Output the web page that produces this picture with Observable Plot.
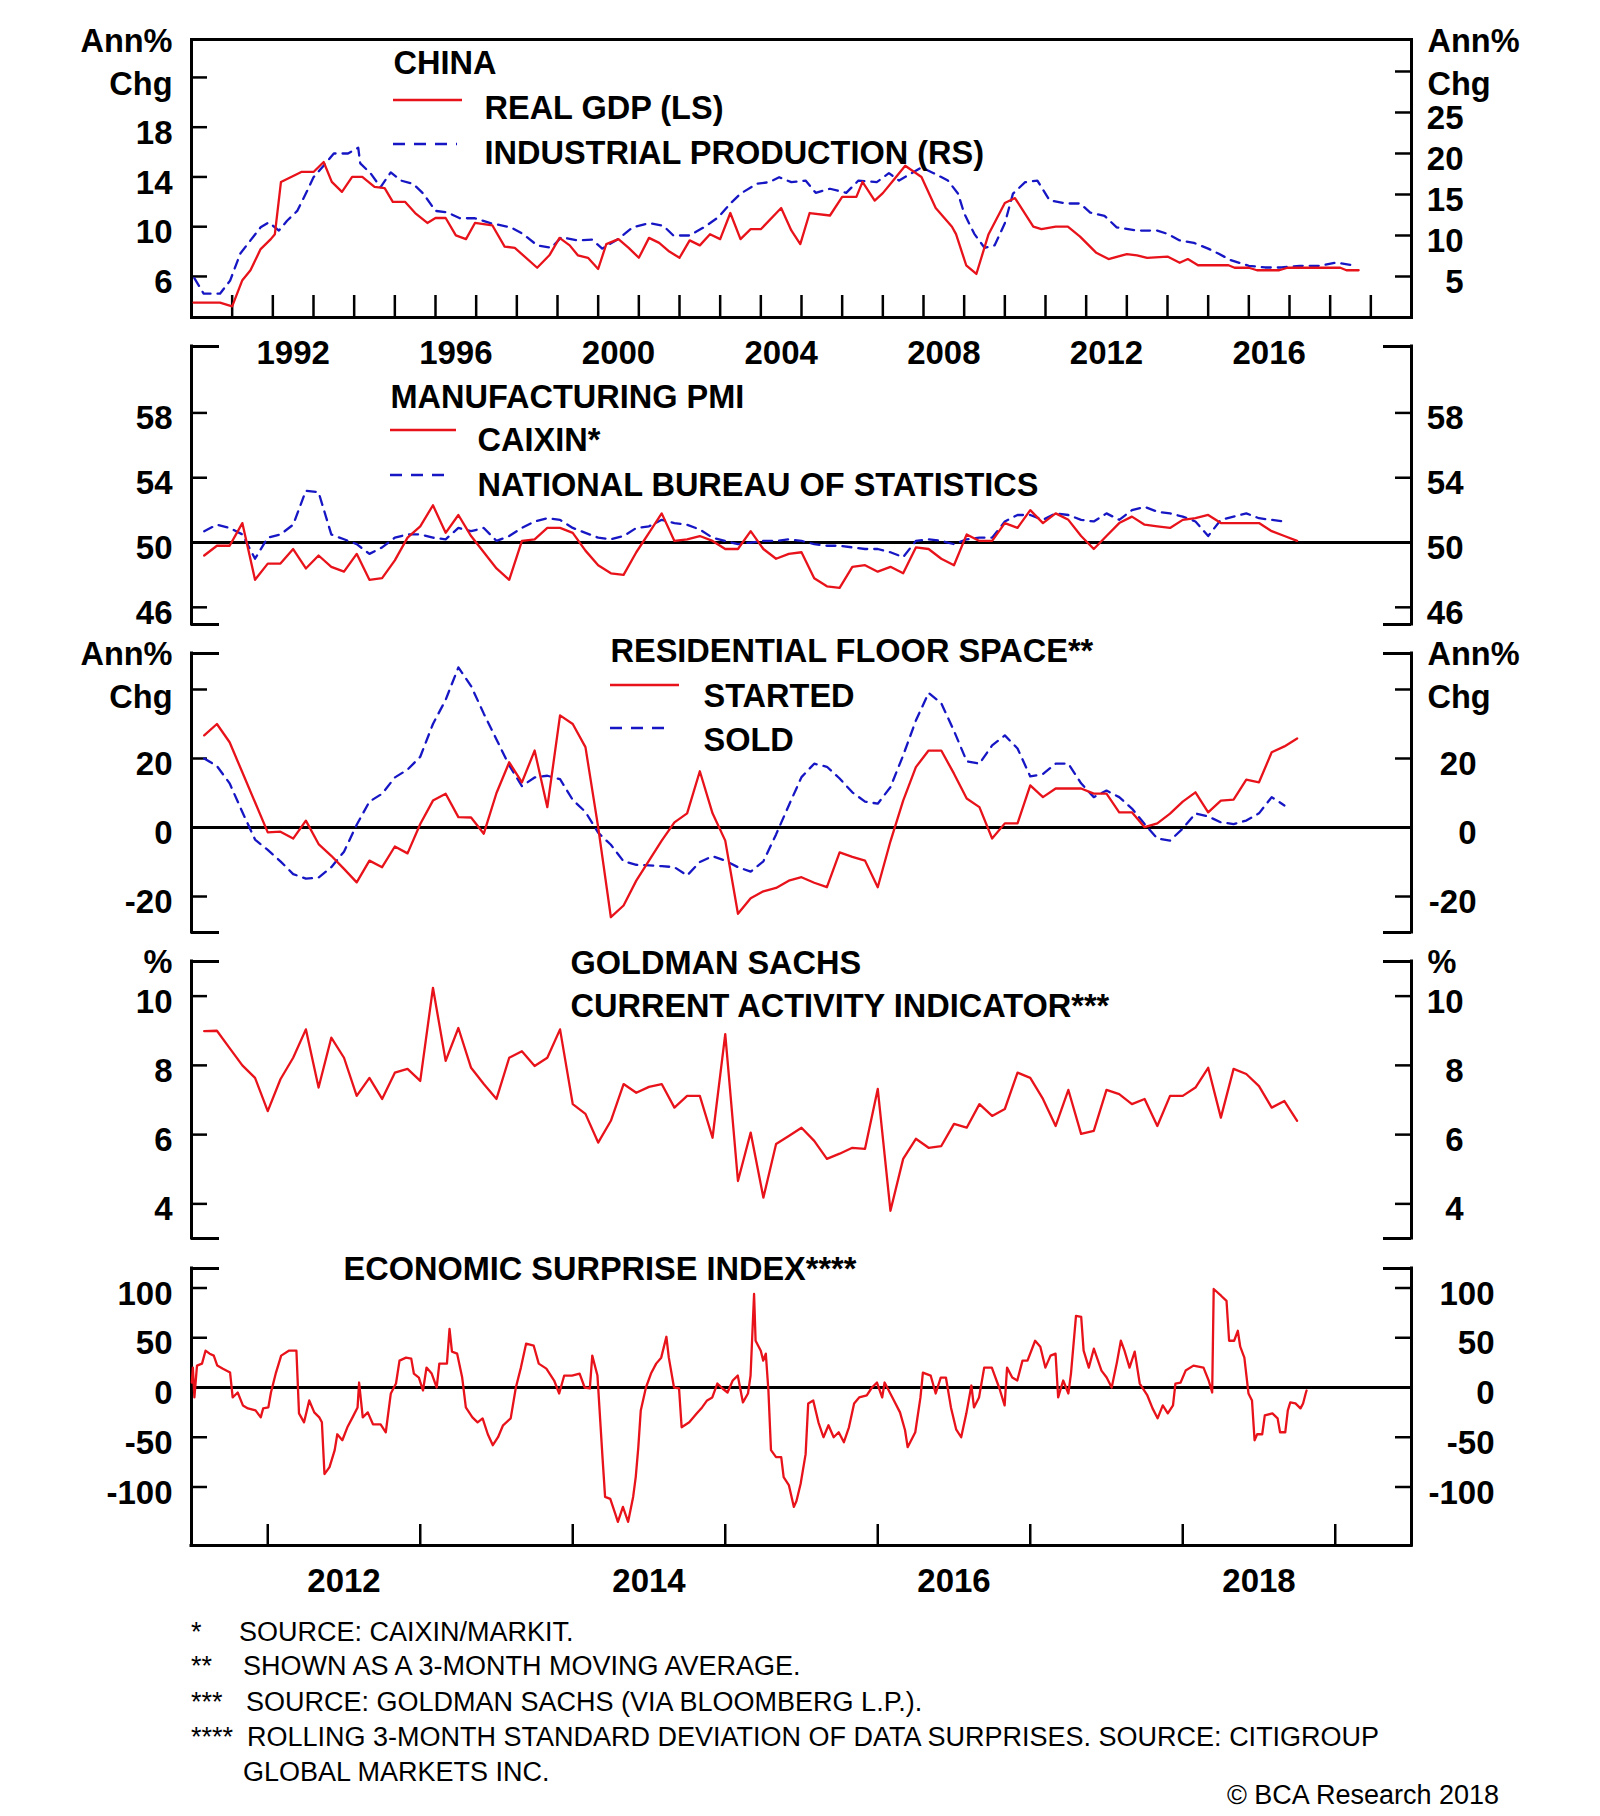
<!DOCTYPE html>
<html>
<head>
<meta charset="utf-8">
<script src="https://cdn.jsdelivr.net/npm/d3@7"></script>
<script src="https://cdn.jsdelivr.net/npm/@observablehq/plot@0.6"></script>
<style>
  html, body { margin: 0; padding: 0; background: #fff; overflow: hidden; }
  #wrap { position: relative; width: 1600px; height: 1816px; background: #fff; color: #000;
          font-family: "Liberation Sans", Arial, Helvetica, sans-serif; }
  .foot { position: absolute; font-size: 27px; line-height: 27px; white-space: pre; color: #000; }
</style>
</head>
<body>
<div id="wrap"></div>
<script>
// ---------------- DATA ----------------
// Panel 1: China real GDP (left scale, ann% chg) and industrial production (right scale)
const gdp = [[1990.05,3.9],[1990.7,3.9],[1991.0,3.6],[1991.25,5.7],[1991.45,6.5],[1991.7,8.2],[1991.95,9.0],[1992.05,9.4],[1992.2,13.6],[1992.45,14.0],[1992.7,14.4],[1993.0,14.4],[1993.25,15.2],[1993.45,13.6],[1993.7,12.8],[1993.95,14.0],[1994.2,14.0],[1994.5,13.2],[1994.75,13.1],[1994.95,12.0],[1995.25,12.0],[1995.5,11.1],[1995.8,10.3],[1996.0,10.7],[1996.25,10.7],[1996.5,9.3],[1996.75,9.0],[1996.97,10.3],[1997.4,10.1],[1997.7,8.4],[1997.95,8.3],[1998.5,6.7],[1998.8,7.7],[1999.05,9.1],[1999.3,8.5],[1999.5,7.7],[1999.75,7.5],[2000.0,6.6],[2000.2,8.6],[2000.5,9.0],[2000.75,8.3],[2001.0,7.5],[2001.25,9.1],[2001.5,8.7],[2001.75,8.0],[2002.0,7.5],[2002.25,8.9],[2002.5,8.5],[2002.75,9.4],[2003.0,9.0],[2003.25,11.1],[2003.5,9.0],[2003.75,9.8],[2004.0,9.8],[2004.5,11.5],[2004.75,9.7],[2004.97,8.6],[2005.2,11.1],[2005.7,10.9],[2006.0,12.4],[2006.35,12.4],[2006.5,13.6],[2006.8,12.1],[2007.0,12.7],[2007.25,13.7],[2007.55,14.9],[2007.95,14.0],[2008.3,11.5],[2008.7,10.0],[2008.8,9.4],[2009.05,6.9],[2009.3,6.2],[2009.6,9.4],[2010.0,11.9],[2010.25,12.3],[2010.7,10.0],[2010.9,9.8],[2011.25,10.0],[2011.55,10.0],[2011.85,9.2],[2012.25,7.9],[2012.55,7.4],[2013.0,7.8],[2013.25,7.7],[2013.5,7.5],[2014.0,7.6],[2014.3,7.1],[2014.5,7.4],[2014.75,6.9],[2015.5,6.9],[2015.65,6.7],[2016.0,6.7],[2016.2,6.5],[2016.75,6.5],[2016.95,6.7],[2018.25,6.7],[2018.4,6.5],[2018.7,6.5]];
const indProd = [[1990.07,4.8],[1990.3,2.9],[1990.7,2.9],[1990.95,4.5],[1991.2,7.8],[1991.45,9.4],[1991.7,11.0],[1991.9,11.6],[1992.15,10.6],[1992.35,11.8],[1992.6,13.0],[1992.85,15.5],[1993.0,17.1],[1993.3,18.8],[1993.5,20.0],[1993.85,20.0],[1994.1,20.7],[1994.15,18.8],[1994.4,17.6],[1994.65,15.9],[1994.9,17.7],[1995.15,16.7],[1995.45,16.3],[1995.7,15.1],[1996.0,13.0],[1996.3,12.8],[1996.6,12.1],[1996.97,12.1],[1997.35,11.5],[1997.85,11.0],[1998.15,10.2],[1998.5,8.8],[1998.85,8.5],[1999.1,9.8],[1999.5,9.4],[1999.85,9.5],[2000.1,8.4],[2000.5,9.6],[2000.85,11.0],[2001.25,11.5],[2001.6,11.2],[2001.85,10.0],[2002.25,10.0],[2002.6,11.0],[2002.95,12.2],[2003.25,13.9],[2003.5,15.1],[2003.9,16.3],[2004.2,16.5],[2004.45,17.1],[2004.75,16.5],[2005.1,16.7],[2005.35,15.2],[2005.7,15.7],[2006.1,15.2],[2006.4,16.7],[2006.85,16.5],[2007.15,17.6],[2007.4,16.7],[2007.95,18.3],[2008.25,17.6],[2008.6,16.7],[2008.85,15.1],[2009.0,12.7],[2009.25,10.2],[2009.5,8.5],[2009.75,8.8],[2010.0,11.5],[2010.2,15.1],[2010.5,16.5],[2010.8,16.7],[2011.1,14.3],[2011.5,13.9],[2011.85,13.9],[2012.1,12.8],[2012.45,12.4],[2012.75,11.0],[2013.25,10.6],[2013.75,10.6],[2014.0,10.2],[2014.3,9.4],[2014.65,9.1],[2015.0,8.4],[2015.25,7.8],[2015.55,7.0],[2016.0,6.3],[2016.4,6.1],[2016.8,6.1],[2017.25,6.3],[2017.75,6.3],[2018.15,6.7],[2018.65,6.3]];
const p1YearLabels = [1992, 1996, 2000, 2004, 2008, 2012, 2016];
const p1LeftTicks = [6, 10, 14, 18, 22];
const p1LeftLabels = [6, 10, 14, 18];
const p1RightTicks = [5, 10, 15, 20, 25, 30];
const p1RightLabels = [5, 10, 15, 20, 25];

// Monthly series (panels 2-4) start at the end of July 2011, one value per month
const monthlyStart = 2011 + 7 / 12;
const caixin = [49.2,49.8,49.8,51.2,47.7,48.7,48.7,49.6,48.4,49.2,48.5,48.2,49.3,47.7,47.8,48.9,50.3,51.0,52.3,50.6,51.7,50.4,49.4,48.4,47.7,50.1,50.2,50.9,50.9,50.6,49.5,48.6,48.1,48.0,49.4,50.6,51.8,50.1,50.2,50.4,50.1,49.6,49.6,50.7,49.6,49.0,49.3,49.4,47.8,47.3,47.2,48.5,48.6,48.2,48.5,48.1,49.7,49.6,49.0,48.6,50.5,50.1,50.1,51.2,50.9,52.0,51.2,51.8,51.4,50.4,49.6,50.4,51.2,51.6,51.1,51.0,50.9,51.4,51.5,51.7,51.2,51.2,51.2,51.2,50.7,50.4,50.1];
const nbs = [50.7,51.1,50.9,50.5,49.0,50.3,50.5,51.1,53.2,53.1,50.5,50.2,49.9,49.3,49.7,50.3,50.5,50.5,50.3,50.2,50.9,50.7,50.9,50.1,50.4,50.9,51.3,51.5,51.4,50.9,50.6,50.3,50.2,50.4,50.9,51.0,51.4,51.2,51.1,50.8,50.3,50.1,49.9,50.0,50.1,50.1,50.2,50.1,49.9,49.8,49.8,49.7,49.6,49.6,49.4,49.1,50.1,50.2,50.1,49.9,50.2,50.3,50.3,51.3,51.7,51.7,51.4,51.8,51.7,51.4,51.3,51.8,51.4,52.0,52.2,51.9,51.8,51.6,51.3,50.4,51.4,51.6,51.8,51.5,51.4,51.3];
const pmiTicks = [46, 50, 54, 58];

const started = [26.7,30.0,24.7,16.0,7.3,-1.4,-1.2,-3.2,2.0,-4.8,-8.2,-12.0,-15.9,-9.6,-11.5,-5.5,-7.5,1.0,7.8,9.8,3.0,2.9,-1.8,10.0,18.9,13.1,22.3,5.9,32.5,30.0,23.3,0.1,-26.0,-22.6,-15.4,-9.6,-3.8,1.5,4.1,16.3,4.1,-3.8,-25.0,-20.5,-18.5,-17.5,-15.4,-14.4,-16.0,-17.3,-7.2,-8.5,-9.6,-17.3,-4.0,7.8,17.5,22.3,22.3,15.6,8.4,5.9,-3.2,1.2,1.2,12.2,8.8,11.3,11.3,11.3,9.8,9.8,4.4,4.4,0.1,1.2,4.0,7.5,10.2,4.4,7.8,8.1,13.9,13.1,21.8,23.5,25.8];
const sold = [20.0,17.8,12.8,4.5,-3.5,-6.5,-9.8,-13.5,-14.8,-14.5,-11.5,-7.0,0.8,7.5,9.8,14.5,16.8,20.5,30.0,37.0,46.4,41.0,33.0,25.5,18.0,12.0,14.5,15.0,14.0,8.0,4.5,-1.5,-5.0,-9.8,-10.8,-11.0,-11.2,-11.5,-13.9,-10.0,-8.3,-9.6,-11.5,-12.8,-9.8,-2.0,6.4,14.6,18.5,17.6,14.2,10.2,7.5,6.9,11.7,20.9,31.0,39.0,36.0,28.0,19.2,18.5,23.8,26.7,22.9,14.8,15.5,18.5,18.5,12.8,8.8,10.7,8.8,5.5,1.0,-3.2,-3.8,-0.3,4.1,3.2,1.5,1.0,2.0,4.1,8.8,6.4];
const floorTicks = [-20, 0, 20, 40];
const floorLabels = [-20, 0, 20];

const cai = [8.99,9.0,8.5,8.0,7.64,6.68,7.6,8.22,9.04,7.36,8.8,8.22,7.12,7.64,7.03,7.79,7.9,7.55,10.24,8.13,9.08,7.93,7.46,7.03,8.22,8.41,7.98,8.22,9.04,6.88,6.6,5.77,6.4,7.46,7.21,7.38,7.46,6.78,7.12,7.12,5.91,8.9,4.66,6.06,4.18,5.73,5.96,6.2,5.82,5.3,5.45,5.62,5.59,7.32,3.8,5.3,5.88,5.62,5.67,6.31,6.2,6.88,6.54,6.74,7.79,7.64,7.03,6.25,7.29,6.02,6.11,7.29,7.17,6.88,7.03,6.25,7.12,7.12,7.36,7.93,6.49,7.9,7.75,7.4,6.78,6.97,6.4];
const caiTicks = [4, 6, 8, 10];

// Panel 5: Citi economic surprise index, China (decimal year, value)
const esi = [[2011.502,5],[2011.509,20],[2011.519,-10],[2011.536,22],[2011.569,24],[2011.592,37],[2011.619,34],[2011.646,32],[2011.669,22],[2011.703,19],[2011.753,15],[2011.770,-10],[2011.803,-5],[2011.837,-18],[2011.870,-21],[2011.920,-23],[2011.954,-30],[2011.970,-21],[2012.004,-20],[2012.021,-5],[2012.054,15],[2012.088,32],[2012.138,37],[2012.188,37],[2012.205,-26],[2012.238,-35],[2012.272,-13],[2012.305,-25],[2012.338,-30],[2012.355,-35],[2012.372,-87],[2012.405,-80],[2012.439,-63],[2012.456,-47],[2012.489,-53],[2012.522,-40],[2012.556,-30],[2012.589,-20],[2012.599,5],[2012.623,-30],[2012.656,-25],[2012.690,-37],[2012.740,-37],[2012.774,-45],[2012.807,-6],[2012.841,4],[2012.864,27],[2012.907,30],[2012.941,29],[2012.958,14],[2012.991,10],[2013.018,-3],[2013.041,20],[2013.075,14],[2013.108,0],[2013.125,24],[2013.175,24],[2013.192,59],[2013.208,36],[2013.242,34],[2013.275,10],[2013.299,-20],[2013.342,-30],[2013.376,-35],[2013.409,-31],[2013.443,-47],[2013.476,-58],[2013.510,-50],[2013.543,-38],[2013.593,-31],[2013.627,0],[2013.660,20],[2013.694,44],[2013.744,42],[2013.777,24],[2013.827,19],[2013.878,7],[2013.911,-6],[2013.944,12],[2013.995,12],[2014.045,14],[2014.078,0],[2014.112,-1],[2014.128,32],[2014.162,12],[2014.195,-70],[2014.212,-110],[2014.246,-112],[2014.279,-127],[2014.296,-135],[2014.329,-120],[2014.363,-135],[2014.396,-110],[2014.413,-90],[2014.430,-60],[2014.446,-23],[2014.480,0],[2014.513,14],[2014.547,24],[2014.580,30],[2014.614,51],[2014.630,30],[2014.664,0],[2014.697,-1],[2014.714,-40],[2014.764,-35],[2014.814,-26],[2014.848,-20],[2014.881,-13],[2014.915,-10],[2014.948,4],[2014.982,-1],[2015.015,-5],[2015.049,7],[2015.082,12],[2015.116,-15],[2015.149,-6],[2015.166,12],[2015.189,94],[2015.199,47],[2015.233,37],[2015.249,27],[2015.266,34],[2015.283,-3],[2015.300,-63],[2015.333,-70],[2015.367,-70],[2015.383,-90],[2015.417,-98],[2015.450,-120],[2015.467,-114],[2015.494,-97],[2015.527,-67],[2015.544,-16],[2015.577,-13],[2015.611,-35],[2015.644,-50],[2015.677,-38],[2015.711,-50],[2015.744,-45],[2015.778,-55],[2015.811,-40],[2015.845,-16],[2015.878,-10],[2015.928,-8],[2015.962,0],[2015.995,5],[2016.029,-10],[2016.045,5],[2016.096,-10],[2016.146,-25],[2016.179,-43],[2016.196,-60],[2016.246,-45],[2016.280,-10],[2016.296,15],[2016.347,12],[2016.380,-6],[2016.413,10],[2016.447,10],[2016.480,-20],[2016.514,-42],[2016.547,-50],[2016.581,-26],[2016.614,2],[2016.631,-20],[2016.664,-10],[2016.698,20],[2016.748,20],[2016.798,-1],[2016.832,-18],[2016.848,20],[2016.882,10],[2016.915,7],[2016.949,27],[2016.982,27],[2017.032,47],[2017.066,41],[2017.099,20],[2017.133,32],[2017.166,34],[2017.183,-10],[2017.216,7],[2017.250,-6],[2017.267,14],[2017.300,72],[2017.334,71],[2017.350,37],[2017.384,20],[2017.417,39],[2017.467,17],[2017.501,10],[2017.534,0],[2017.568,25],[2017.594,47],[2017.618,37],[2017.651,20],[2017.685,36],[2017.718,4],[2017.768,-8],[2017.802,-21],[2017.835,-31],[2017.869,-18],[2017.902,-26],[2017.936,-18],[2017.952,4],[2017.986,5],[2018.019,17],[2018.070,22],[2018.136,20],[2018.170,7],[2018.193,-5],[2018.203,99],[2018.253,92],[2018.287,87],[2018.304,47],[2018.337,47],[2018.361,57],[2018.377,41],[2018.404,30],[2018.431,-6],[2018.454,-13],[2018.471,-53],[2018.488,-47],[2018.521,-47],[2018.538,-28],[2018.588,-26],[2018.622,-31],[2018.638,-45],[2018.672,-45],[2018.689,-23],[2018.705,-15],[2018.739,-16],[2018.772,-21],[2018.789,-16],[2018.806,-6],[2018.812,-3]];
const esiTicks = [-100, -50, 0, 50, 100];
const lowerYearLabels = [2012, 2014, 2016, 2018];

const footnotes = [
  ["*", "SOURCE: CAIXIN/MARKIT."],
  ["**", "SHOWN AS A 3-MONTH MOVING AVERAGE."],
  ["***", "SOURCE: GOLDMAN SACHS (VIA BLOOMBERG L.P.)."],
  ["****", "ROLLING 3-MONTH STANDARD DEVIATION OF DATA SURPRISES. SOURCE: CITIGROUP"],
  ["", "GLOBAL MARKETS INC."]
];
const copyright = "\u00A9 BCA Research 2018";

// ---------------- DRAWING ----------------
const RED = "#e8121a", BLUE = "#1616c4", INK = "#000";
const W = 1600, ML = 191, MR = 189, PW = W - ML - MR;
const FONT = "'Liberation Sans', Arial, Helvetica, sans-serif";
const TSIZE = 33, LSIZE = 32.5;
const wrap = document.getElementById("wrap");

const monthly = arr => arr.map((v, i) => ({x: monthlyStart + i / 12, v}));

// right-hand scale of panel 1 expressed on the left scale
const P1L = [2.7, 25.05], P1R = [0, 33.9];
const rToL = r => P1L[0] + (r - P1R[0]) * (P1L[1] - P1L[0]) / (P1R[1] - P1R[0]);
const lToR = l => P1R[0] + (l - P1L[0]) * (P1R[1] - P1R[0]) / (P1L[1] - P1L[0]);

function panel(top, bottom, xDomain, yDomain, makeMarks, swatches = []) {
  const mt = Math.min(40, top), mb = 40, ph = bottom - top;
  const svg = Plot.plot({
    width: W, height: ph + mt + mb,
    marginLeft: ML, marginRight: MR, marginTop: mt, marginBottom: mb,
    x: {domain: xDomain, axis: null},
    y: {domain: yDomain, axis: null},
    style: {background: "transparent", overflow: "visible", fontFamily: FONT, color: INK},
    marks: makeMarks(ph, top)
  });
  svg.style.position = "absolute";
  svg.style.left = "0px";
  svg.style.top = (top - mt) + "px";
  const g = d3.select(svg).append("g").attr("class", "legend-swatches");
  for (const s of swatches) {
    g.append("line")
      .attr("x1", s.x1).attr("x2", s.x2)
      .attr("y1", s.y - (top - mt)).attr("y2", s.y - (top - mt))
      .attr("stroke", s.color).attr("stroke-width", 2.5)
      .attr("stroke-dasharray", s.dash || null);
  }
  wrap.appendChild(svg);
}

const label = (str, x, yc, top, anchor = "start", size = LSIZE) =>
  Plot.text([str], {text: d => d, frameAnchor: "top-left", dx: x - ML, dy: yc - top + 1,
    textAnchor: anchor, lineAnchor: "middle", fontSize: size, fontWeight: "bold", fill: INK});

const ticksL = vals => Plot.tickY(vals, {y: d => d, insetRight: PW - 16, stroke: INK, strokeWidth: 2.5});
const ticksR = vals => Plot.tickY(vals, {y: d => d, insetLeft: PW - 16, stroke: INK, strokeWidth: 2.5});
const labelsL = (ticks, fmt = d => String(d)) => Plot.axisY({anchor: "left", ticks, tickFormat: fmt, tickSize: 0,
  tickPadding: 19, dy: 6, fontSize: TSIZE, fontWeight: "bold", label: null, fill: INK});
const labelsR = (ticks, pad, fmt = d => String(d)) => Plot.axisY({anchor: "right", ticks, tickFormat: fmt, tickSize: 0,
  tickPadding: pad, textAnchor: "end", dy: 6, fontSize: TSIZE, fontWeight: "bold", label: null, fill: INK});
const yearLabels = years => Plot.axisX({anchor: "bottom", ticks: years.map(y => y + 0.5),
  tickFormat: d => String(Math.floor(d)), tickSize: 0, tickPadding: 23, fontSize: TSIZE, fontWeight: "bold", label: null, fill: INK});

function bracket(xd, yd, {top = true, bottom = true, fullBottom = false} = {}) {
  const stub = PW - 28;
  const m = [Plot.ruleX([xd[0], xd[1]], {stroke: INK, strokeWidth: 3, strokeLinecap: "square"})];
  const ends = [];
  if (top) ends.push(yd[1]);
  if (bottom && !fullBottom) ends.push(yd[0]);
  m.push(Plot.tickY(ends, {y: d => d, insetRight: stub, stroke: INK, strokeWidth: 3}));
  m.push(Plot.tickY(ends, {y: d => d, insetLeft: stub, stroke: INK, strokeWidth: 3}));
  if (fullBottom) m.push(Plot.ruleY([yd[0]], {stroke: INK, strokeWidth: 3, strokeLinecap: "square"}));
  return m;
}

const redLine = (data, x, y) => Plot.line(data, {x, y, stroke: RED, strokeWidth: 2.3, strokeLinejoin: "round"});
const blueLine = (data, x, y) => Plot.line(data, {x, y, stroke: BLUE, strokeWidth: 2.3, strokeDasharray: "9,7"});

// ---- Panel 1: China real GDP & industrial production
panel(39, 317, [1990, 2020], P1L, (ph, top) => [
  Plot.frame({stroke: INK, strokeWidth: 3}),
  Plot.tickX(d3.range(1991, 2020), {x: d => d, insetTop: ph - 22, stroke: INK, strokeWidth: 2.5}),
  ticksL(p1LeftTicks),
  ticksR(p1RightTicks.map(rToL)),
  blueLine(indProd, d => d[0], d => rToL(d[1])),
  redLine(gdp, d => d[0], d => d[1]),
  labelsL(p1LeftLabels),
  labelsR(p1RightLabels.map(rToL), 52, d => String(Math.round(lToR(d)))),
  yearLabels(p1YearLabels),
  label("Ann%", 172, 40, top, "end"),
  label("Chg", 172, 83, top, "end"),
  label("Ann%", 1427, 40, top),
  label("Chg", 1427, 83, top),
  label("CHINA", 393, 62, top),
  label("REAL GDP (LS)", 484, 107, top),
  label("INDUSTRIAL PRODUCTION (RS)", 484, 152, top)
], [
  {x1: 393, x2: 462, y: 100, color: RED},
  {x1: 393, x2: 457, y: 144, color: BLUE, dash: "12,9"}
]);

const XD = [2011.5, 2019.5];

// ---- Panel 2: Manufacturing PMI
const PMI_D = [44.94, 62.1];
panel(346, 624, XD, PMI_D, (ph, top) => [
  ...bracket(XD, PMI_D),
  Plot.ruleY([50], {stroke: INK, strokeWidth: 3}),
  ticksL(pmiTicks),
  ticksR(pmiTicks),
  blueLine(monthly(nbs), d => d.x, d => d.v),
  redLine(monthly(caixin), d => d.x, d => d.v),
  labelsL(pmiTicks),
  labelsR(pmiTicks, 52),
  label("MANUFACTURING PMI", 390, 396, top),
  label("CAIXIN*", 477, 439, top),
  label("NATIONAL BUREAU OF STATISTICS", 477, 484, top)
], [
  {x1: 390, x2: 456, y: 430, color: RED},
  {x1: 390, x2: 452, y: 475, color: BLUE, dash: "12,9"}
]);

// ---- Panel 3: Residential floor space
const FS_D = [-30.43, 50.43];
panel(653, 932, XD, FS_D, (ph, top) => [
  ...bracket(XD, FS_D),
  Plot.ruleY([0], {stroke: INK, strokeWidth: 3}),
  ticksL(floorTicks),
  ticksR(floorTicks),
  blueLine(monthly(sold), d => d.x, d => d.v),
  redLine(monthly(started), d => d.x, d => d.v),
  labelsL(floorLabels),
  labelsR(floorLabels, 65),
  label("Ann%", 172, 653, top, "end"),
  label("Chg", 172, 696, top, "end"),
  label("Ann%", 1427, 653, top),
  label("Chg", 1427, 696, top),
  label("RESIDENTIAL FLOOR SPACE**", 610, 650, top),
  label("STARTED", 703, 695, top),
  label("SOLD", 703, 739, top)
], [
  {x1: 610, x2: 679, y: 685, color: RED},
  {x1: 610, x2: 673, y: 728, color: BLUE, dash: "12,9"}
]);

// ---- Panel 4: Goldman Sachs current activity indicator
const CAI_D = [3, 11];
panel(961, 1238, XD, CAI_D, (ph, top) => [
  ...bracket(XD, CAI_D),
  ticksL(caiTicks),
  ticksR(caiTicks),
  redLine(monthly(cai), d => d.x, d => d.v),
  labelsL(caiTicks),
  labelsR(caiTicks, 52),
  label("%", 172, 961, top, "end"),
  label("%", 1427, 961, top),
  label("GOLDMAN SACHS", 570, 962, top),
  label("CURRENT ACTIVITY INDICATOR***", 570, 1005, top)
]);

// ---- Panel 5: Economic surprise index
const ESI_D = [-158.8, 119.6];
panel(1268, 1545, XD, ESI_D, (ph, top) => [
  ...bracket(XD, ESI_D, {fullBottom: true}),
  Plot.tickX(d3.range(2012, 2020), {x: d => d, insetTop: ph - 21, stroke: INK, strokeWidth: 2.5}),
  Plot.ruleY([0], {stroke: INK, strokeWidth: 3}),
  ticksL(esiTicks),
  ticksR(esiTicks),
  redLine(esi, d => d[0], d => d[1]),
  labelsL(esiTicks),
  labelsR(esiTicks, 83),
  yearLabels(lowerYearLabels),
  label("ECONOMIC SURPRISE INDEX****", 343, 1268, top)
]);

// ---- Footnotes
const footY = [1632, 1666, 1702, 1737, 1772];
const footX = [239, 243, 246, 247, 243];
footnotes.forEach(([mark, text], i) => {
  if (mark) {
    const m = document.createElement("div");
    m.className = "foot"; m.textContent = mark;
    m.style.left = "191px"; m.style.top = (footY[i] - 13) + "px";
    wrap.appendChild(m);
  }
  const t = document.createElement("div");
  t.className = "foot"; t.textContent = text;
  t.style.left = footX[i] + "px"; t.style.top = (footY[i] - 13) + "px";
  wrap.appendChild(t);
});
const c = document.createElement("div");
c.className = "foot"; c.textContent = copyright;
c.style.right = (1600 - 1499) + "px"; c.style.top = (1795 - 13) + "px";
wrap.appendChild(c);
</script>
</body>
</html>
